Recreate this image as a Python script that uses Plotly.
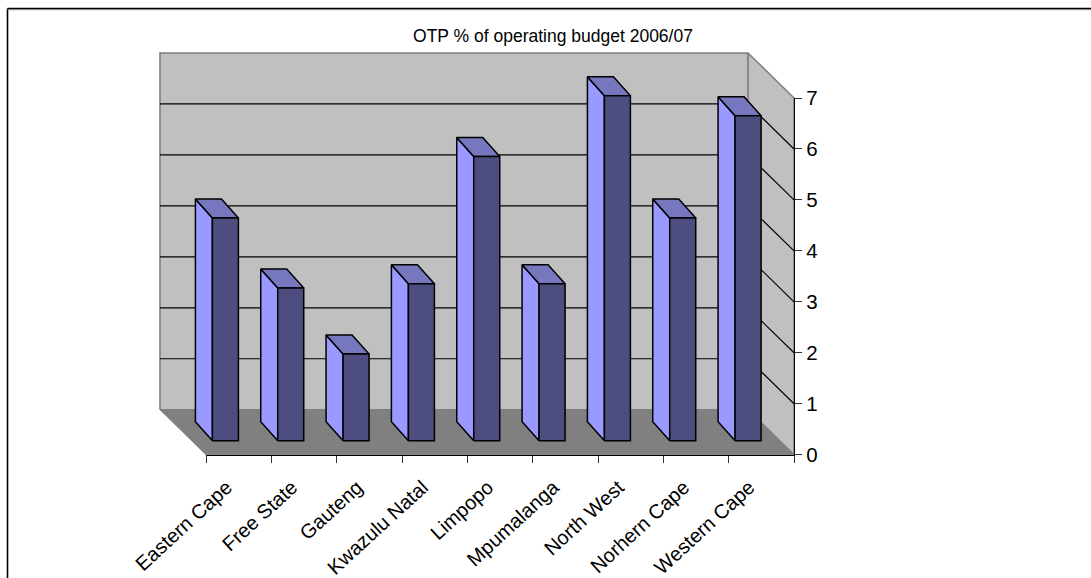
import plotly.graph_objects as go

categories = ["Eastern Cape", "Free State", "Gauteng", "Kwazulu Natal", "Limpopo",
              "Mpumalanga", "North West", "Norhern Cape", "Western Cape"]
values = [4.37, 3.0, 1.7, 3.08, 5.58, 3.08, 6.77, 4.37, 6.38]
y_ticks = [0, 1, 2, 3, 4, 5, 6, 7]
title_text = "OTP % of operating budget 2006/07"

W, H = 1091, 578
X0, X1 = 206, 794
Y0, Y7 = 454.7, 98
DX, DY = -46, 45
PX = (X1 - X0) / 9
PY = (Y0 - Y7) / 7
BAR_W = 26 / PX
BAR_SHIFT = 1 / PX
D_F = 0.31
BACK_DX, BACK_DY = -17 / PX, 19 / PY


def pt(x, v, d):
    return x + d * DX / PX, v + d * DY / PY


def bar_front(x, v):
    return pt(x, v, D_F)


def bar_back(x, v):
    fx, fy = pt(x, v, D_F)
    return fx + BACK_DX, fy + BACK_DY


def poly(points, fill, line_color="black", width=1.5):
    xs = [p[0] for p in points] + [points[0][0]]
    ys = [p[1] for p in points] + [points[0][1]]
    return go.Scatter(x=xs, y=ys, mode="lines", fill="toself", fillcolor=fill,
                      line=dict(color=line_color, width=width), hoverinfo="skip",
                      showlegend=False)


def seg(a, b, color="black", width=1.2):
    return go.Scatter(x=[a[0], b[0]], y=[a[1], b[1]], mode="lines",
                      line=dict(color=color, width=width), hoverinfo="skip",
                      showlegend=False)


fig = go.Figure()
# back wall, side wall, floor
fig.add_trace(poly([pt(0, 0, 1), pt(9, 0, 1), pt(9, 7, 1), pt(0, 7, 1)], "#C0C0C0", "#808080", 1.6))
fig.add_trace(poly([pt(9, 0, 1), pt(9, 0, 0), pt(9, 7, 0), pt(9, 7, 1)], "#C0C0C0", "#808080", 1.6))
for k in y_ticks[1:-1]:
    fig.add_trace(seg(pt(0, k, 1), pt(9, k, 1)))
    fig.add_trace(seg(pt(9, k, 1), pt(9, k, 0)))
fig.add_trace(poly([pt(0, 0, 1), pt(9, 0, 1), pt(9, 0, 0), pt(0, 0, 0)], "#808080", "#808080", 1))

for i, v in enumerate(values):
    c = i + 0.5 + BAR_SHIFT
    l, r = c - BAR_W / 2, c + BAR_W / 2
    fig.add_trace(poly([bar_front(l, 0), bar_front(l, v), bar_back(l, v), bar_back(l, 0)], "#9999FF"))
    fig.add_trace(poly([bar_front(l, v), bar_front(r, v), bar_back(r, v), bar_back(l, v)], "#7777BF"))
    fig.add_trace(poly([bar_front(l, 0), bar_front(r, 0), bar_front(r, v), bar_front(l, v)], "#4D4D80"))

# invisible trace that keeps the visible axis pair alive
fig.add_trace(go.Scatter(x=[0, 9], y=[0, 7], xaxis="x2", yaxis="y2", mode="markers",
                         marker=dict(opacity=0), hoverinfo="skip", showlegend=False))

fig.update_layout(
    width=W, height=H, autosize=False,
    margin=dict(l=0, r=0, t=0, b=0),
    paper_bgcolor="white", plot_bgcolor="rgba(0,0,0,0)",
    font=dict(family="Liberation Sans", color="black"),
    showlegend=False,
    title=dict(text=title_text, x=553 / W, y=1 - 36 / H, xanchor="center", yanchor="middle",
               xref="container", yref="container",
               font=dict(family="Liberation Sans", size=17.5, color="black")),
    xaxis=dict(domain=[0, 1], range=[-X0 / PX, (W - X0) / PX], visible=False, fixedrange=True),
    yaxis=dict(domain=[0, 1], range=[(Y0 - H) / PY, Y0 / PY], visible=False, fixedrange=True),
    xaxis2=dict(domain=[X0 / W, X1 / W], range=[0, 9], tickmode="array",
                tickvals=[i + 0.5 for i in range(len(categories))], ticktext=categories,
                tickangle=-42.5, ticks="", ticklen=0, showgrid=False, zeroline=False,
                showline=True, linecolor="black", linewidth=1.4, automargin=False,
                tickfont=dict(size=20, family="Liberation Sans", color="black"),
                minor=dict(tickmode="array", tickvals=list(range(10)), ticks="outside",
                           ticklen=7, tickcolor="#333333", tickwidth=1.2, showgrid=False),
                anchor="y2", ticklabelstandoff=12, ticklabelshift=-12),
    yaxis2=dict(domain=[(H - Y0) / H, (H - Y7) / H], range=[0, 7], side="right",
                anchor="x2", tickmode="array", tickvals=y_ticks, ticks="outside", ticklen=7,
                tickcolor="#333333", tickwidth=1.2, showgrid=False, zeroline=False,
                showline=True, linecolor="black", linewidth=1.4, automargin=False,
                tickfont=dict(size=20.5, family="Liberation Sans", color="black")),
    shapes=[
        dict(type="line", xref="paper", yref="paper", x0=7.5 / W, x1=7.5 / W, y0=0, y1=1 - 8.5 / H,
             line=dict(color="black", width=1.6)),
        dict(type="line", xref="paper", yref="paper", x0=7.5 / W, x1=1, y0=1 - 8.5 / H, y1=1 - 8.5 / H,
             line=dict(color="black", width=1.4)),
        dict(type="line", xref="paper", yref="paper", x0=7.5 / W, x1=1, y0=1 - 9.7 / H, y1=1 - 9.7 / H,
             line=dict(color="#808080", width=1)),
    ],
)
fig.write_html("out.html", config=dict(displayModeBar=False),
               post_script="document.body.style.margin='0';document.body.style.overflow='hidden';")
